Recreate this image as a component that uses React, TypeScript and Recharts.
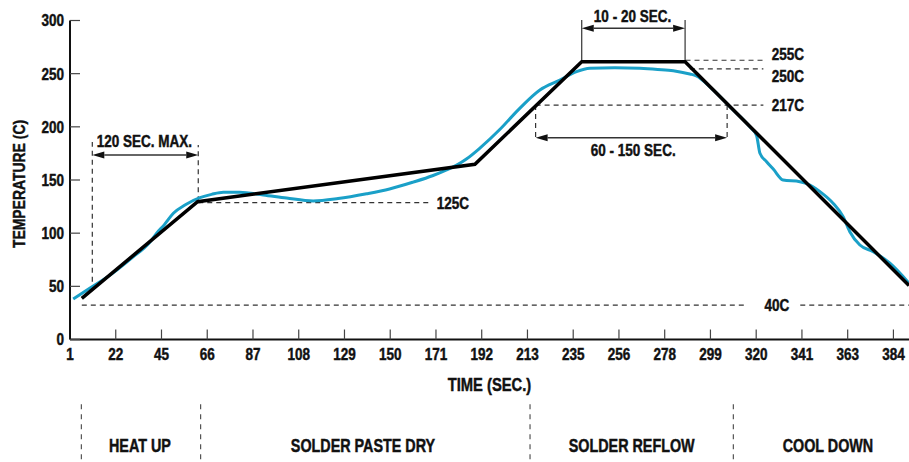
import React from "react";
import { LineChart, Line, XAxis, YAxis, ReferenceLine, ReferenceDot } from "recharts";

// axis ticks
const TIME_TICKS = ["1", "22", "45", "66", "87", "108", "129", "150", "171", "192", "213", "235", "256", "278", "299", "320", "341", "363", "384"];
const TICK_STEP = 21.33;
const TEMP_TICKS = [0, 50, 100, 150, 200, 250, 300];

// ideal reflow profile (black)
const PROFILE_TIME = [6.5, 60.5, 189.8, 239.6, 287.8, 392.2];
const PROFILE_TEMP = [38.7, 129.6, 164.8, 261.3, 261.3, 50.8];

// measured profile (blue)
const MEASURED_TIME = [2.5, 10, 20, 30, 38, 41.4, 45, 49.2, 55, 61.6, 67, 72.5, 80, 91.1, 102, 114.4, 126, 139.3, 150, 161, 170, 176.6, 181.3, 186, 192, 201.5, 210, 220.1, 229.4, 237.2, 243.4, 255, 266.7, 275, 282.3, 290, 293, 300, 310, 318, 321.1, 322.7, 325.8, 329, 333.5, 341.3, 346, 352, 356.9, 361.5, 364.6, 369.3, 375.5, 383.3, 392.2];
const MEASURED_TEMP = [38, 48, 61, 77, 91, 100, 108, 118.7, 127, 133.4, 136.5, 138.5, 138.5, 136, 133, 130.3, 132.5, 137, 141.5, 148, 154, 159.5, 164, 170, 179.8, 197.7, 216, 234.7, 244, 251.9, 255, 255.5, 255, 254, 252.8, 249.7, 248, 236.5, 216.3, 200, 192, 175.1, 167.2, 160, 150, 148.4, 145.3, 137, 128, 115.5, 101.4, 88.9, 82.6, 71.7, 52.9];

// phases under the axis
const PHASE_NAMES = ["HEAT UP", "SOLDER PASTE DRY", "SOLDER REFLOW", "COOL DOWN"];
const PHASE_CENTERS = [33.6, 137.6, 262.9, 354.4];
const PHASE_BOUNDS = [6.3, 61.9, 215.5, 310.3];

const profile = PROFILE_TIME.map((t, i) => ({ t, temp: PROFILE_TEMP[i] }));
const measured = MEASURED_TIME.map((t, i) => ({ t, temp: MEASURED_TEMP[i] }));

// dashed guide segments [t1, temp1, t2, temp2]
const GUIDES: [number, number, number, number][] = [
  [6.5, 32.4, 317, 32.4],
  [341.5, 32.4, 392.2, 32.4],
  [60.8, 128.7, 169.6, 128.7],
  [218.1, 220.5, 324.3, 220.5],
  [218.1, 220.5, 218.1, 187.5],
  [307.4, 220.5, 307.4, 187.5],
  [290, 254.6, 324.3, 254.6],
  [288, 262.6, 324.3, 262.6],
  [11.4, 54.4, 11.4, 185.7],
  [60.8, 130, 60.8, 183],
];

// solid marker lines for the 10 - 20 sec window
const MARKERS: [number, number, number, number][] = [
  [239.6, 261.3, 239.6, 300.5],
  [287.8, 261.3, 287.8, 300.5],
];

// double arrows [t1, t2, temp]
const ARROWS: [number, number, number][] = [
  [11.4, 60.8, 173.5],
  [218.1, 307.4, 189.8],
  [239.6, 287.8, 292.7],
];

const NOTES = [
  { text: "120 SEC. MAX.", t: 35.7, v: 186.7, anchor: "middle" },
  { text: "125C", t: 172, v: 128.1, anchor: "start" },
  { text: "40C", t: 330.6, v: 32.4, anchor: "middle" },
  { text: "255C", t: 328.2, v: 268, anchor: "start" },
  { text: "250C", t: 328.2, v: 248, anchor: "start" },
  { text: "217C", t: 328.2, v: 220.5, anchor: "start" },
  { text: "60 - 150 SEC.", t: 263.6, v: 178.2, anchor: "middle" },
  { text: "10 - 20 SEC.", t: 263.3, v: 304.4, anchor: "middle" },
];

const FONT = "'Liberation Sans', Arial, Helvetica, sans-serif";
const INK = "#111";
const SQUEEZE = 0.82;

// bold condensed-looking text (Helvetica Condensed stand-in)
function Narrow({ x, y, anchor = "middle", size = 16.5, dy = "0.36em", rotate = 0, children }: any) {
  return (
    <text
      transform={`translate(${x} ${y}) rotate(${rotate}) scale(${SQUEEZE} 1)`}
      textAnchor={anchor}
      dy={dy}
      fontFamily={FONT}
      fontWeight={700}
      fontSize={size}
      fill={INK}
      stroke={INK}
      strokeWidth={0.45}
    >
      {children}
    </text>
  );
}

const textShape = (text: string, anchor: string, size?: number) => (p: any) => (
  <Narrow x={p.cx} y={p.cy} anchor={anchor} size={size}>{text}</Narrow>
);

const TimeTick = (p: any) => {
  const idx = Math.round((p.payload.value - 1) / TICK_STEP);
  return <Narrow x={p.x} y={p.y} dy="0.71em">{TIME_TICKS[idx]}</Narrow>;
};

const TempTick = (p: any) => (
  <Narrow x={p.x} y={p.y} anchor="end">{p.payload.value}</Narrow>
);

const arrowShape = (p: any) => {
  const { x1, y1, x2, y2 } = p;
  const h = 12;
  const w = 3.5;
  return (
    <g>
      <line x1={x1 + h} y1={y1} x2={x2 - h} y2={y2} stroke="#333" strokeWidth={1.5} />
      <polygon points={`${x1},${y1} ${x1 + h},${y1 - w} ${x1 + h},${y1 + w}`} fill={INK} />
      <polygon points={`${x2},${y2} ${x2 - h},${y2 - w} ${x2 - h},${y2 + w}`} fill={INK} />
    </g>
  );
};

export default function App() {
  return (
    <div style={{ position: "absolute", left: 0, top: 0, background: "#fff" }}>
      <LineChart width={909} height={462} margin={{ top: 20.5, right: 0, bottom: 70.5, left: 0 }}>
        <XAxis
          type="number"
          dataKey="t"
          domain={[1, 392.2]}
          allowDataOverflow
          ticks={TIME_TICKS.map((_, i) => 1 + i * TICK_STEP)}
          interval={0}
          height={52}
          tick={<TimeTick />}
          tickSize={-10}
          tickMargin={19}
          axisLine={{ stroke: INK, strokeWidth: 2 }}
          tickLine={{ stroke: "#444", strokeWidth: 1.2 }}
          label={{
            content: (props: any) => {
              const vb = props.viewBox || {};
              return (
                <Narrow x={(vb.x ?? 0) + (vb.width ?? 0) / 2} y={(vb.y ?? 0) + 45} size={18}>
                  TIME (SEC.)
                </Narrow>
              );
            },
          }}
        />
        <YAxis
          type="number"
          domain={[0, 300]}
          ticks={TEMP_TICKS}
          interval={0}
          width={70}
          tick={<TempTick />}
          tickSize={-10}
          tickMargin={16}
          axisLine={{ stroke: INK, strokeWidth: 2 }}
          tickLine={{ stroke: "#444", strokeWidth: 1.2 }}
          label={{
            content: (props: any) => {
              const vb = props.viewBox || {};
              return (
                <Narrow x={(vb.x ?? 0) + 19} y={(vb.y ?? 0) + (vb.height ?? 0) / 2 + 4} size={17} rotate={-90}>
                  TEMPERATURE (C)
                </Narrow>
              );
            },
          }}
        />

        {GUIDES.map(([t1, v1, t2, v2], i) => (
          <ReferenceLine key={`g${i}`} segment={[{ x: t1, y: v1 }, { x: t2, y: v2 }]} ifOverflow="visible"
            stroke="#333" strokeWidth={1.2} strokeDasharray="5 4" />
        ))}
        {MARKERS.map(([t1, v1, t2, v2], i) => (
          <ReferenceLine key={`m${i}`} segment={[{ x: t1, y: v1 }, { x: t2, y: v2 }]} ifOverflow="visible"
            stroke="#333" strokeWidth={1.2} />
        ))}
        {ARROWS.map(([t1, t2, v], i) => (
          <ReferenceLine key={`a${i}`} segment={[{ x: t1, y: v }, { x: t2, y: v }]} ifOverflow="visible"
            shape={arrowShape} />
        ))}
        {PHASE_BOUNDS.map((t, i) => (
          <ReferenceLine key={`p${i}`} segment={[{ x: t, y: -61 }, { x: t, y: -114 }]} ifOverflow="visible"
            stroke="#555" strokeWidth={1.2} strokeDasharray="5 5" />
        ))}

        <Line data={measured} dataKey="temp" type="monotone" stroke="#1aa0c8" strokeWidth={3}
          dot={false} activeDot={false} isAnimationActive={false} />
        <Line data={profile} dataKey="temp" type="linear" stroke="#000" strokeWidth={3.5}
          dot={false} activeDot={false} isAnimationActive={false} />

        {NOTES.map((n, i) => (
          <ReferenceDot key={`n${i}`} x={n.t} y={n.v} r={0} ifOverflow="visible" shape={textShape(n.text, n.anchor)} />
        ))}
        {PHASE_NAMES.map((name, i) => (
          <ReferenceDot key={`ph${i}`} x={PHASE_CENTERS[i]} y={-99.9} r={0} ifOverflow="visible"
            shape={textShape(name, "middle", 17.5)} />
        ))}
      </LineChart>
    </div>
  );
}
